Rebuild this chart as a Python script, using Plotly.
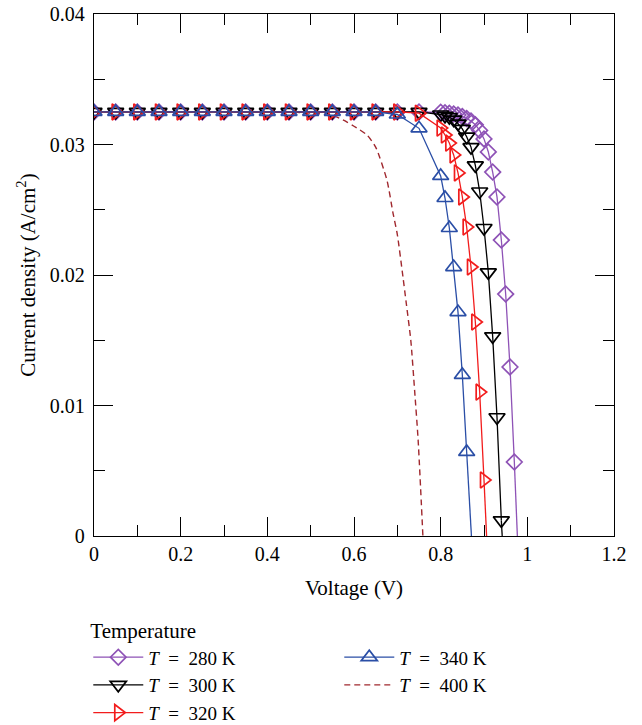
import plotly.graph_objects as go

# Current density vs. voltage for several cell temperatures
v_280 = [0.00, 0.05, 0.10, 0.15, 0.20, 0.25, 0.30, 0.35, 0.40, 0.45, 0.50, 0.55, 0.60, 0.65, 0.70, 0.75,
         0.80, 0.81, 0.82, 0.83, 0.84, 0.85, 0.86, 0.87, 0.88, 0.89, 0.90, 0.91, 0.92, 0.93, 0.94, 0.95, 0.96, 0.97]
j_280 = [0.0325, 0.0325, 0.0325, 0.0325, 0.0325, 0.0325, 0.0325, 0.0325, 0.0325, 0.0325, 0.0325, 0.0325, 0.0325, 0.0325, 0.0325, 0.0325,
         0.03247, 0.03244, 0.0324, 0.03234, 0.03226, 0.03215, 0.0320, 0.0318, 0.03152, 0.03108, 0.03043, 0.02943, 0.02789, 0.02598, 0.02268, 0.01854, 0.01295, 0.00567]

v_300 = [0.00, 0.05, 0.10, 0.15, 0.20, 0.25, 0.30, 0.35, 0.40, 0.45, 0.50, 0.55, 0.60, 0.65, 0.70, 0.75,
         0.80, 0.81, 0.82, 0.83, 0.84, 0.85, 0.86, 0.87, 0.88, 0.89, 0.90, 0.91, 0.92, 0.93, 0.94]
j_300 = [0.0325, 0.0325, 0.0325, 0.0325, 0.0325, 0.0325, 0.0325, 0.0325, 0.0325, 0.0325, 0.0325, 0.0325, 0.0325, 0.0325, 0.0325, 0.0325,
         0.0323, 0.0322, 0.0321, 0.0319, 0.0316, 0.0312, 0.0306, 0.0298, 0.0284, 0.0264, 0.0236, 0.0202, 0.0153, 0.0091, 0.0012]

v_320 = [0.00, 0.05, 0.10, 0.15, 0.20, 0.25, 0.30, 0.35, 0.40, 0.45, 0.50, 0.55, 0.60, 0.65, 0.70, 0.75,
         0.80, 0.81, 0.82, 0.83, 0.84, 0.85, 0.86, 0.87, 0.88, 0.89, 0.90]
j_320 = [0.0325, 0.0325, 0.0325, 0.0325, 0.0325, 0.0325, 0.0325, 0.0325, 0.0325, 0.0325, 0.0325, 0.0325, 0.0325, 0.0325, 0.0325, 0.0324,
         0.03126, 0.03073, 0.03011, 0.0292, 0.02782, 0.02598, 0.02368, 0.02061, 0.0164, 0.01103, 0.00429]

v_340 = [0.00, 0.05, 0.10, 0.15, 0.20, 0.25, 0.30, 0.35, 0.40, 0.45, 0.50, 0.55, 0.60, 0.65, 0.70, 0.75,
         0.80, 0.81, 0.82, 0.83, 0.84, 0.85, 0.86]
j_340 = [0.0325, 0.0325, 0.0325, 0.0325, 0.0325, 0.0325, 0.0325, 0.0325, 0.0325, 0.0325, 0.0325, 0.0325, 0.0325, 0.0325, 0.0323, 0.03124,
         0.02759, 0.0259, 0.0236, 0.02061, 0.01716, 0.01234, 0.00644]

v_400 = [0.00, 0.10, 0.20, 0.30, 0.40, 0.45, 0.50, 0.55, 0.584, 0.60, 0.63, 0.65, 0.676, 0.69, 0.70,
         0.713, 0.72, 0.731, 0.74, 0.748, 0.759]
j_400 = [0.0325, 0.0325, 0.0325, 0.0325, 0.0325, 0.0325, 0.0324, 0.03225, 0.03172, 0.0314, 0.03073, 0.0298, 0.02728, 0.02475, 0.0231,
         0.01985, 0.0180, 0.01502, 0.0111, 0.00736, 0.0]

# Open-circuit voltages (J = 0 crossing) of the marked curves
voc = {"280": 0.977, "300": 0.942, "320": 0.906, "340": 0.871}

labels = {t: f"<i>T</i>\u2002=\u2002{t} K" for t in ["280", "300", "320", "340", "400"]}
colors = {"280": "#8e52b6", "300": "#000000", "320": "#f21c1c", "340": "#2a4ea6", "400": "#a0282e"}
symbols = {"280": "diamond-open", "300": "triangle-down-open", "320": "triangle-right-open", "340": "triangle-up-open"}
sizes = {"280": 12, "300": 14, "320": 14, "340": 14}
# legend laid out row by row: 280 | 340 / 300 | 400 / 320
ranks = {"280": 1, "340": 2, "300": 3, "400": 4, "320": 5}

series = {"280": (v_280, j_280), "300": (v_300, j_300), "320": (v_320, j_320), "340": (v_340, j_340)}

fig = go.Figure()

fig.add_trace(go.Scatter(
    x=v_400, y=j_400, mode="lines", name=labels["400"],
    line=dict(color=colors["400"], width=1.4, dash="6px,4px", shape="spline", smoothing=0.6),
    legendrank=ranks["400"],
))

for t in ["280", "300", "320", "340"]:
    v, j = series[t]
    # tail of the curve down to the voltage axis
    fig.add_trace(go.Scatter(
        x=[v[-1], voc[t]], y=[j[-1], 0.0], mode="lines",
        line=dict(color=colors[t], width=1.3), showlegend=False, hoverinfo="skip",
    ))
    fig.add_trace(go.Scatter(
        x=v, y=j, mode="lines+markers", name=labels[t],
        line=dict(color=colors[t], width=1.3),
        marker=dict(symbol=symbols[t], size=sizes[t], color=colors[t], line=dict(width=1.7, color=colors[t])),
        legendrank=ranks[t],
    ))

axis_common = dict(
    showgrid=False, zeroline=False, showline=True, linecolor="black", linewidth=1.3,
    mirror="ticks", ticks="inside", ticklen=19, tickwidth=1.3, tickcolor="black",
    tickfont=dict(size=20),
)

fig.update_xaxes(
    range=[0, 1.2], tick0=0, dtick=0.2, ticklabelstandoff=0,
    minor=dict(dtick=0.1, ticks="inside", ticklen=11, tickwidth=1.3, tickcolor="black"),
    title=dict(text="Voltage (V)", font=dict(size=21), standoff=16),
    **axis_common,
)
fig.update_yaxes(
    range=[0, 0.04], tick0=0, dtick=0.01, ticklabelstandoff=4,
    minor=dict(dtick=0.005, ticks="inside", ticklen=11, tickwidth=1.3, tickcolor="black"),
    title=dict(text="Current density (A/cm<sup>2</sup>)", font=dict(size=21), standoff=8),
    **axis_common,
)

fig.update_layout(
    width=642, height=725,
    margin=dict(l=94, r=28, t=14, b=189, autoexpand=False),
    paper_bgcolor="white", plot_bgcolor="white",
    font=dict(family="Liberation Serif", size=20, color="black"),
    legend=dict(
        orientation="h", xref="container", yref="container",
        x=0.1375, xanchor="left", y=0.1572, yanchor="top",
        title=dict(text="Temperature", side="top", font=dict(size=21)),
        itemwidth=50, entrywidth=186, entrywidthmode="pixels",
        font=dict(size=19), bgcolor="rgba(0,0,0,0)", tracegroupgap=0,
    ),
    showlegend=True,
)

fig.write_html("out.html")
